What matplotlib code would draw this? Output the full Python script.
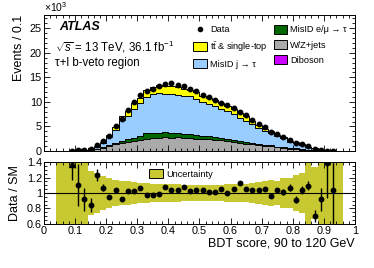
import numpy as np
import matplotlib
matplotlib.use("Agg")
import matplotlib.pyplot as plt
from matplotlib.patches import Patch
from matplotlib.lines import Line2D
from matplotlib.ticker import MultipleLocator

plt.rcParams['font.family'] = ['Liberation Sans', 'DejaVu Sans']
plt.rcParams['mathtext.fontset'] = 'custom'
plt.rcParams['mathtext.rm'] = 'Liberation Sans'
plt.rcParams['mathtext.it'] = 'Liberation Sans:italic'

# MC bins, centres 0.05 ... 0.95 (x10^3 events)
diboson = [0, 0, 0, 0, 0, 0.005, 0.01, 0.02, 0.03, 0.04, 0.05, 0.06, 0.07, 0.08, 0.09, 0.1,
           0.1, 0.1, 0.1, 0.1, 0.1, 0.1, 0.1, 0.1, 0.09, 0.09, 0.08, 0.08, 0.07, 0.06, 0.06,
           0.05, 0.05, 0.04, 0.04, 0.03, 0.03, 0.02, 0.02, 0.02, 0.01, 0.01, 0, 0, 0, 0]
wzjets = [0.005, 0.01, 0.02, 0.03, 0.05, 0.1, 0.3, 0.6, 0.95, 1.3, 1.6, 1.85, 2.05, 2.2, 2.4,
          2.55, 2.6, 2.7, 2.6, 2.65, 2.5, 2.6, 2.4, 2.3, 2.45, 2.2, 2.1, 1.9, 1.8, 1.6, 1.45,
          1.3, 1.15, 1.0, 0.9, 0.7, 0.6, 0.45, 0.4, 0.28, 0.18, 0.12, 0.05, 0.015, 0.02, 0.01]
misid_el = [0, 0, 0, 0, 0, 0.01, 0.04, 0.1, 0.2, 0.3, 0.4, 0.5, 0.6, 0.8, 1.1, 1.0, 1.0, 1.0,
            0.9, 0.9, 0.85, 0.8, 0.8, 0.7, 0.6, 0.55, 0.5, 0.5, 0.45, 0.4, 0.35, 0.3, 0.28,
            0.25, 0.2, 0.18, 0.15, 0.12, 0.1, 0.08, 0.05, 0.03, 0.02, 0.005, 0.005, 0]
misid_j = [0.01, 0.03, 0.05, 0.07, 0.14, 0.38, 0.48, 0.9, 1.7, 2.7, 4.3, 4.8, 5.85, 6.6, 7.46,
           7.95, 8.18, 7.9, 8.1, 7.8, 7.8, 7.6, 7.3, 6.9, 6.5, 6.3, 5.95, 5.7, 5.2, 4.6,
           4.3, 3.8, 3.2, 2.75, 2.45, 2.05, 1.78, 1.25, 1.15, 0.83, 0.54, 0.35, 0.13, 0.045,
           0.065, 0.03]
ttbar = [0.002, 0.005, 0.01, 0.01, 0.03, 0.07, 0.11, 0.25, 0.38, 0.56, 0.82, 0.93, 1.13, 1.2,
         1.4, 1.5, 1.55, 1.5, 1.5, 1.5, 1.4, 1.4, 1.33, 1.25, 1.2, 1.16, 1.05, 1.07, 0.97, 1.0,
         0.89, 0.71, 0.61, 0.53, 0.45, 0.36, 0.3, 0.22, 0.2, 0.14, 0.09, 0.06, 0.02, 0.005,
         0.01, 0.005]
# relative uncertainty of the SM prediction per bin
unc = [1, 1, 1, 1, 1, 0.29, 0.26, 0.22, 0.19, 0.17, 0.16, 0.15, 0.14, 0.13, 0.13, 0.12, 0.12,
       0.11, 0.11, 0.11, 0.10, 0.10, 0.10, 0.10, 0.10, 0.10, 0.10, 0.11, 0.11, 0.12, 0.12,
       0.13, 0.14, 0.15, 0.17, 0.16, 0.19, 0.2, 0.23, 0.26, 1, 0.33, 1, 1, 1, 1]

# data, centres 0.09 ... 0.93
data = [0.10, 0.12, 0.20, 0.47, 1.16, 2.0, 3.1, 5.1, 6.6, 8.3, 9.9, 11.4, 12.2, 12.7, 13.3,
        13.6, 13.75, 13.4, 13.3, 12.7, 12.2, 11.4, 10.9, 10.3, 9.8, 9.35, 8.7, 7.9, 7.3, 6.3,
        5.5, 4.8, 3.9, 3.45, 2.9, 2.2, 1.7, 1.4, 0.95, 0.4, 0.2, 0.1, 0.1]
ratio = [1.37, 1.105, 0.92, 0.84, 1.23, 1.07, 0.95, 1.04, 0.92, 1.02, 1.02, 1.06, 0.98, 0.97,
         0.99, 1.075, 1.04, 1.035, 1.075, 1.02, 1.04, 1.035, 1.015, 1.01, 1.05, 1.0, 1.05,
         1.125, 1.05, 1.04, 1.04, 1.05, 0.965, 1.04, 1.015, 1.07, 0.91, 1.04, 1.095, 0.70,
         0.92, 1.39, 1.04]
ratio_err = [0.2, 0.27, 0.15, 0.09, 0.08, 0.05, 0.03, 0.03, 0.025, 0.02, 0.02] + [0.02] * 22 + \
            [0.03, 0.04, 0.04, 0.045, 0.05, 0.06, 0.08, 0.15, 0.46, 0.6]

mc_edges = np.round(np.arange(0.04, 0.9601, 0.02), 2)
data_x = np.round(np.arange(0.09, 0.9301, 0.02), 2)

fig = plt.figure(figsize=(3.74, 2.68), dpi=100)
ax1 = fig.add_axes([0.1176, 0.4366, 0.8315, 0.5074])
ax2 = fig.add_axes([0.1176, 0.1642, 0.8315, 0.2313])

# stack, drawn from the top layer down
layers = [(diboson, '#cc00ff'), (wzjets, '#aaaaaa'), (misid_el, '#006600'),
          (misid_j, '#99ccff'), (ttbar, '#ffff00')]
cum = []
tot = np.zeros(len(mc_edges) - 1)
for vals, c in layers:
    tot = tot + np.array(vals)
    cum.append((tot.copy(), c))
for vals, c in cum[::-1]:
    ax1.stairs(vals, mc_edges, fill=True, color=c, lw=0)
    ax1.stairs(vals, mc_edges, color='k', lw=0.7, baseline=0)

ax1.plot(data_x, data, 'o', color='k', ms=3.2)

ax1.set_xlim(0, 1)
ax1.set_ylim(0, 27.7)
ax1.yaxis.set_major_locator(MultipleLocator(5))
ax1.yaxis.set_minor_locator(MultipleLocator(1))
ax1.xaxis.set_major_locator(MultipleLocator(0.1))
ax1.set_ylabel('Events / 0.1', loc='top', fontsize=9, labelpad=3)
ax1.text(0, 1.005, '×10$^3$', transform=ax1.transAxes, fontsize=7.5, va='bottom')

ax1.text(0.05, 0.91, 'ATLAS', transform=ax1.transAxes, fontsize=9, weight='bold',
         style='italic', va='center')
ax1.text(0.035, 0.765, r'$\sqrt{s}$ = 13 TeV, 36.1 fb$^{-1}$', transform=ax1.transAxes,
         fontsize=8.3, va='center')
ax1.text(0.035, 0.65, 'τ+l b-veto region', transform=ax1.transAxes, fontsize=8.3,
         va='center')

handles = [Line2D([], [], marker='o', color='k', ls='none', ms=3),
           Patch(facecolor='#ffff00', edgecolor='k', lw=0.7),
           Patch(facecolor='#99ccff', edgecolor='k', lw=0.7),
           Patch(facecolor='#006600', edgecolor='k', lw=0.7),
           Patch(facecolor='#aaaaaa', edgecolor='k', lw=0.7),
           Patch(facecolor='#cc00ff', edgecolor='k', lw=0.7)]
labels = ['Data', r'$\mathrm{t\bar{t}}$ & single-top', 'MisID j → τ',
          'MisID e/μ → τ', 'W/Z+jets', 'Diboson']
ax1.legend(handles, labels, ncol=2, loc='upper left', bbox_to_anchor=(0.46, 0.975),
           frameon=False, fontsize=6.6, handlelength=1.45, handleheight=1.1,
           handletextpad=0.35, columnspacing=0.7, labelspacing=0.62, borderpad=0.2)

# ratio panel
ax2.stairs(1 + np.array(unc), mc_edges, baseline=1 - np.array(unc), fill=True,
           color='#c8c832', lw=0)
ax2.axhline(1, color='k', lw=0.8)
ax2.errorbar(data_x[1:], ratio[1:], yerr=ratio_err[1:], fmt='o', color='k', ms=3.2,
             elinewidth=1.0, capsize=0)
ax2.errorbar(data_x[:1], ratio[:1], yerr=[ratio_err[:1], [0.03]], fmt='^', color='k',
             ms=3.8, elinewidth=1.0, capsize=0)
ax2.set_xlim(0, 1)
ax2.set_ylim(0.6, 1.4)
ax2.set_yticks([0.6, 0.8, 1.0, 1.2, 1.4], ['0.6', '0.8', '1', '1.2', '1.4'])
ax2.yaxis.set_minor_locator(MultipleLocator(0.05))
ax2.set_xticks(np.round(np.arange(0, 1.01, 0.1), 1),
               ['0', '0.1', '0.2', '0.3', '0.4', '0.5', '0.6', '0.7', '0.8', '0.9', '1'])
ax2.set_ylabel('Data / SM', fontsize=9)
ax2.set_xlabel('BDT score, 90 to 120 GeV', loc='right', fontsize=9, labelpad=1)
ax2.legend([Patch(facecolor='#c8c832', edgecolor='k', lw=0.7)], ['Uncertainty'],
           loc='upper left', bbox_to_anchor=(0.315, 1.0), frameon=False, fontsize=6.6,
           handlelength=1.45, handleheight=1.1, handletextpad=0.35, borderpad=0.3)

for ax in (ax1, ax2):
    ax.xaxis.set_minor_locator(MultipleLocator(0.02))
    ax.tick_params(which='both', direction='in', top=True, right=True, labelsize=7.8,
                   width=0.6, pad=1.5)
    ax.tick_params(which='major', length=4)
    ax.tick_params(which='minor', length=2)
    for s in ax.spines.values():
        s.set_linewidth(0.7)
ax1.tick_params(labelbottom=False)

fig.savefig('out.png', dpi=100)
